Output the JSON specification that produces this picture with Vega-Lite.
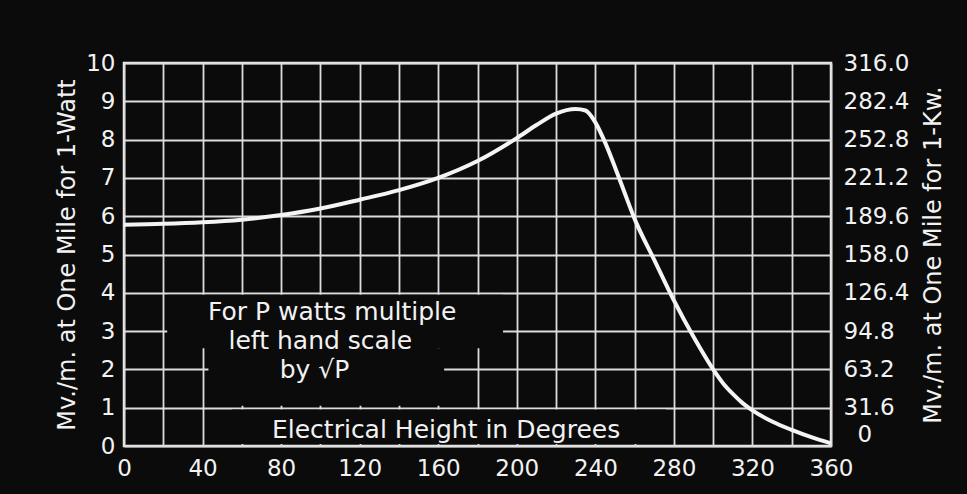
{
  "$schema": "https://vega.github.io/schema/vega-lite/v6.json",
  "width": 707,
  "height": 383,
  "autosize": "none",
  "padding": {"left": 124, "top": 63, "right": 136, "bottom": 48},
  "background": "#0b0b0b",
  "config": {
    "view": {"stroke": "#eeeeee", "strokeWidth": 2.5},
    "axis": {
      "labelFont": "DejaVu Sans",
      "titleFont": "DejaVu Sans",
      "labelColor": "#f2f2f2",
      "titleColor": "#f2f2f2",
      "gridColor": "#dddddd",
      "gridOpacity": 1,
      "gridWidth": 1.8,
      "domain": false,
      "ticks": false,
      "labelFlush": false,
      "labelFontSize": 23,
      "titleFontSize": 24,
      "titleFontWeight": "normal"
    }
  },
  "datasets": {
    "curve": [
      {"deg": 0, "v": 5.78},
      {"deg": 20, "v": 5.8},
      {"deg": 40, "v": 5.84},
      {"deg": 60, "v": 5.91},
      {"deg": 80, "v": 6.03},
      {"deg": 100, "v": 6.2},
      {"deg": 120, "v": 6.43},
      {"deg": 140, "v": 6.68},
      {"deg": 160, "v": 7.0},
      {"deg": 180, "v": 7.44},
      {"deg": 200, "v": 8.04},
      {"deg": 210, "v": 8.38},
      {"deg": 220, "v": 8.68},
      {"deg": 230, "v": 8.8},
      {"deg": 235, "v": 8.76},
      {"deg": 240, "v": 8.45},
      {"deg": 245, "v": 7.92},
      {"deg": 250, "v": 7.28},
      {"deg": 255, "v": 6.6},
      {"deg": 260, "v": 5.93},
      {"deg": 270, "v": 4.86},
      {"deg": 280, "v": 3.8},
      {"deg": 290, "v": 2.85},
      {"deg": 300, "v": 2.0},
      {"deg": 305, "v": 1.64},
      {"deg": 310, "v": 1.36},
      {"deg": 315, "v": 1.12},
      {"deg": 320, "v": 0.93},
      {"deg": 330, "v": 0.64},
      {"deg": 340, "v": 0.42},
      {"deg": 350, "v": 0.23},
      {"deg": 360, "v": 0.07}
    ],
    "boxes": [
      {"deg": 22, "deg2": 193, "y0": 2.55, "y1": 3.95},
      {"deg": 43, "deg2": 163, "y0": 1.05, "y1": 2.55},
      {"deg": 55, "deg2": 276, "y0": 0.05, "y1": 0.95}
    ],
    "notes": [
      {"deg": 106, "y": 3.5, "t": "For P watts multiple"},
      {"deg": 100, "y": 2.74, "t": "left hand scale"},
      {"deg": 97, "y": 1.98, "t": "by √P"},
      {"deg": 164, "y": 0.42, "t": "Electrical Height in Degrees"}
    ]
  },
  "encoding": {
    "x": {
      "field": "deg", "type": "quantitative",
      "scale": {"domain": [0, 360], "nice": false},
      "axis": {
        "title": null,
        "values": [0, 20, 40, 60, 80, 100, 120, 140, 160, 180, 200, 220, 240, 260, 280, 300, 320, 340, 360],
        "labelExpr": "datum.value % 40 === 0 ? datum.label : ''",
        "labelPadding": 11,
        "labelFlush": false,
        "grid": true
      }
    }
  },
  "layer": [
    {
      "data": {"name": "curve"},
      "mark": {"type": "line", "opacity": 0},
      "encoding": {
        "y": {
          "field": "v", "type": "quantitative",
          "scale": {"domain": [0, 10], "nice": false},
          "axis": {
            "title": "Mv./m. at One Mile for 1-Watt",
            "values": [0, 1, 2, 3, 4, 5, 6, 7, 8, 9, 10],
            "labelPadding": 9,
            "titlePadding": 6,
            "labelFlush": false,
            "grid": true
          }
        }
      }
    },
    {
      "data": {"name": "boxes"},
      "mark": {"type": "rect", "color": "#0b0b0b"},
      "encoding": {
        "x2": {"field": "deg2"},
        "y": {"field": "y0", "type": "quantitative", "scale": {"domain": [0, 10], "nice": false}, "axis": null},
        "y2": {"field": "y1"}
      }
    },
    {
      "data": {"name": "notes"},
      "mark": {"type": "text", "color": "#f2f2f2", "font": "DejaVu Sans", "fontSize": 25, "align": "center", "baseline": "middle"},
      "encoding": {
        "y": {"field": "y", "type": "quantitative", "scale": {"domain": [0, 10], "nice": false}, "axis": null},
        "text": {"field": "t"}
      }
    },
    {
      "data": {"name": "curve"},
      "mark": {"type": "line", "color": "#f4f4f4", "strokeWidth": 4, "interpolate": "monotone"},
      "encoding": {
        "y": {"field": "v", "type": "quantitative", "scale": {"domain": [0, 10], "nice": false}, "axis": null}
      }
    },
    {
      "data": {"name": "curve"},
      "mark": {"type": "line", "opacity": 0},
      "encoding": {
        "y": {
          "field": "v", "type": "quantitative",
          "scale": {"domain": [0, 10], "nice": false},
          "axis": {
            "orient": "right",
            "title": "Mv./m. at One Mile for 1-Kw.",
            "titleAngle": 270,
            "values": [0, 1, 2, 3, 4, 5, 6, 7, 8, 9, 10],
            "labelExpr": "['0','31.6','63.2','94.8','126.4','158.0','189.6','221.2','252.8','282.4','316.0'][datum.value]",
            "labelAlign": "left",
            "labelPadding": {"condition": {"test": "datum.value === 0", "value": 26}, "value": 12},
            "labelBaseline": {"condition": {"test": "datum.value === 0", "value": "bottom"}, "value": "middle"},
            "titlePadding": 37,
            "labelFlush": false,
            "grid": false
          }
        }
      }
    }
  ],
  "resolve": {"scale": {"y": "independent"}, "axis": {"y": "independent"}}
}
